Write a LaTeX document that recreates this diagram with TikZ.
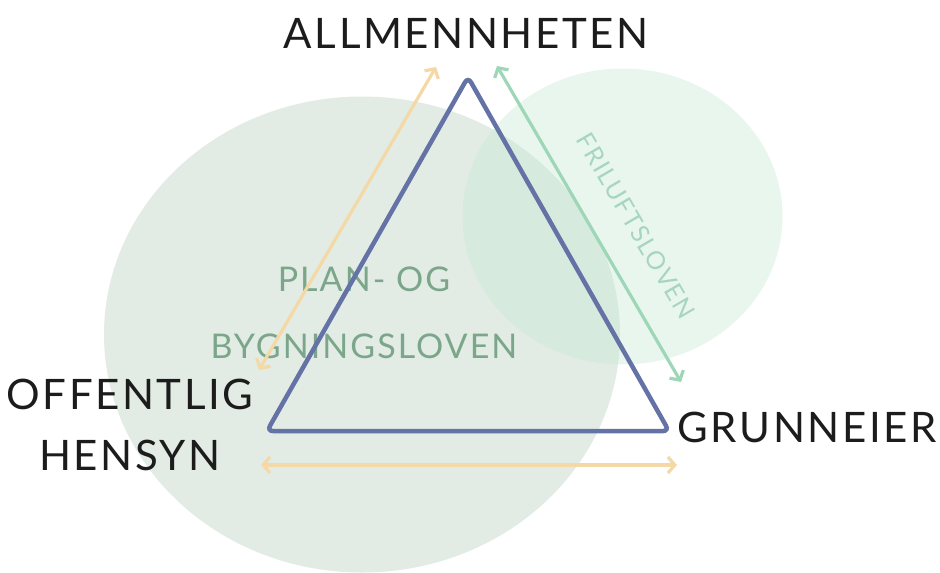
\documentclass[tikz,border=0pt]{standalone}
\usepackage{fontspec}
\setmainfont{Lato}[LetterSpace=6]
\usepackage{xcolor}
\usetikzlibrary{arrows.meta,positioning}

\definecolor{triblue}{HTML}{6472A6}
\definecolor{lawsand}{HTML}{F4D9A6}
\definecolor{lawmint}{HTML}{9ED6B8}
\definecolor{bigfill}{HTML}{E2ECE5}
\definecolor{smallfill}{HTML}{C8E8D4}
\definecolor{lawgreen}{HTML}{7BA68A}
\definecolor{lawpale}{HTML}{A7D6BE}
\definecolor{inkblack}{HTML}{1C1C1C}

\begin{document}
\begin{tikzpicture}[
x=1pt, y=-1pt,
party/.style={text=inkblack, font=\fontsize{42}{61}\selectfont, align=center, inner sep=0pt},
law/.style={text=lawgreen, font=\fontsize{34}{67}\selectfont, align=center, inner sep=0pt},
link/.style={line width=3.2pt, line cap=round, {Straight Barb[length=7pt,width=16pt]}-{Straight Barb[length=7pt,width=16pt]}}
]
\useasboundingbox (0,0) rectangle (940,573);

% --- Areas of the two laws ---
\fill[bigfill] (362,334.5) ellipse [x radius=258pt, y radius=238pt];
\fill[smallfill, opacity=0.4] (622.5,216.5) ellipse [x radius=160pt, y radius=148pt];

% --- Law labels ---
\node[law, anchor=base] (pbl) at (364,358) {PLAN- OG\\BYGNINGSLOVEN};
\node[law, text=lawpale, font=\fontsize{25}{30}\selectfont, rotate=-59.8] (friluft) at (636,226) {FRILUFTSLOVEN};

% --- Corners ---
\coordinate (top) at (468,77);
\coordinate (left) at (267,431);
\coordinate (right) at (669,431);

% --- Arrow ends ---
\coordinate (planA) at (436,67);
\coordinate (planB) at (259,370);
\coordinate (baseA) at (261,465);
\coordinate (baseB) at (677,465);
\coordinate (frilA) at (497,66);
\coordinate (frilB) at (681,382);

% --- Connections ---
\draw[link, lawsand] (planA) -- (planB);
\draw[link, lawsand] (baseA) -- (baseB);
\draw[link, lawmint] (frilA) -- (frilB);

% --- Triangle ---
\draw[triblue, line width=4.5pt, rounded corners=6pt] (top) -- (left) -- (right) -- cycle;

% --- Parties ---
\node[party, anchor=base] (public) at (466,48) {ALLMENNHETEN};
\node[party, anchor=base] (owner) at (807,442) {GRUNNEIER};
\node[party, anchor=base] (interest) at (130,470) {OFFENTLIG\\HENSYN};

\end{tikzpicture}
\end{document}
